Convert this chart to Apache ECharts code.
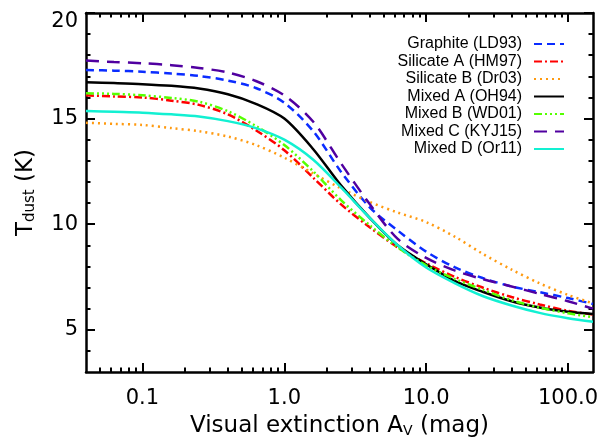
<!DOCTYPE html>
<html><head><meta charset="utf-8">
<script src="https://cdn.jsdelivr.net/npm/echarts@6/dist/echarts.min.js"></script>
<style>html,body{margin:0;padding:0;background:#fff}#c{width:603px;height:439px}</style>
</head><body><div id="c"></div>
<script>
// Visual extinction A_V (mag) sample points
const av = [0.04, 0.063, 0.1, 0.16, 0.25, 0.4, 0.63, 1, 1.6, 2.5, 4, 6.3, 10, 16, 25, 40, 63, 100, 150];
// Dust temperature (K) per model
const graphiteLD93 = [17.3, 17.27, 17.22, 17.13, 17.02, 16.8, 16.45, 15.75, 14.4, 12.5, 10.8, 9.7, 8.7, 7.95, 7.45, 7.05, 6.78, 6.5, 6.22];
const silicateAHM97 = [16.1, 16.05, 16.0, 15.85, 15.65, 15.2, 14.45, 13.5, 12.2, 10.95, 9.85, 8.9, 8.15, 7.5, 7.0, 6.55, 6.2, 5.9, 5.72];
const silicateBDr03 = [14.8, 14.75, 14.7, 14.55, 14.4, 14.15, 13.75, 13.15, 12.4, 11.7, 11.05, 10.55, 10.1, 9.4, 8.6, 7.85, 7.2, 6.65, 6.25];
const mixedAOH94 = [16.72, 16.68, 16.63, 16.55, 16.42, 16.15, 15.7, 15.0, 13.55, 11.85, 10.3, 9.0, 8.1, 7.3, 6.8, 6.35, 6.05, 5.85, 5.75];
const mixedBWD01 = [16.2, 16.17, 16.1, 15.98, 15.8, 15.35, 14.65, 13.75, 12.5, 11.15, 9.95, 8.9, 8.05, 7.4, 6.9, 6.4, 6.05, 5.78, 5.6];
const mixedCKYJ15 = [17.75, 17.68, 17.62, 17.53, 17.4, 17.18, 16.78, 16.1, 14.85, 12.9, 10.95, 9.3, 8.4, 7.8, 7.4, 7.05, 6.7, 6.35, 6.0];
const mixedDOr11 = [15.36, 15.32, 15.28, 15.2, 15.1, 14.88, 14.55, 14.0, 13.05, 11.75, 10.3, 9.0, 7.95, 7.2, 6.6, 6.15, 5.8, 5.55, 5.38];

const seriesNames = ['Graphite (LD93)', 'Silicate A (HM97)', 'Silicate B (Dr03)', 'Mixed A (OH94)', 'Mixed B (WD01)', 'Mixed C (KYJ15)', 'Mixed D (Or11)'];
const seriesValues = [graphiteLD93, silicateAHM97, silicateBDr03, mixedAOH94, mixedBWD01, mixedCKYJ15, mixedDOr11];

// tick labels / positions
const xMajorTicks = [0.1, 1, 10, 100];
const xMinorTicks = [0.05, 0.06, 0.07, 0.08, 0.09, 0.2, 0.3, 0.4, 0.5, 0.6, 0.7, 0.8, 0.9, 2, 3, 4, 5, 6, 7, 8, 9, 20, 30, 40, 50, 60, 70, 80, 90];
const yMajorTicks = [5, 10, 15, 20];
const yMinorTicks = [4, 6, 7, 8, 9, 11, 12, 13, 14, 16, 17, 18, 19];

const styles = [
  {color: '#0a2cff', dash: [8, 5]},
  {color: '#ff0000', dash: [8, 3, 2, 3]},
  {color: '#ff9a10', dash: [2, 4]},
  {color: '#000000', dash: 'solid'},
  {color: '#55ff00', dash: [8, 3, 2, 3, 2, 3, 2, 3]},
  {color: '#5000a0', dash: [13, 8]},
  {color: '#12f0d2', dash: 'solid'}
];

const AX = 'DejaVu Sans';
const XMIN = 0.04, XMAX = 150, YMIN = 3, YMAX = 20;

function xAxisDef(pos, ticks, len, showLabel, showLine) {
  return {
    type: 'log', logBase: 10, min: XMIN, max: XMAX, position: pos,
    axisLine: {show: showLine, onZero: false, lineStyle: {color: '#000', width: 2.5}},
    axisTick: {show: true, inside: true, length: len, customValues: ticks, lineStyle: {color: '#000', width: 2}},
    axisLabel: showLabel ? {
      show: true, customValues: ticks, fontFamily: AX, fontSize: 21, color: '#000', margin: 16,
      formatter: v => (v < 1 ? String(v) : Number(v).toFixed(1))
    } : {show: false},
    splitLine: {show: false}, minorTick: {show: false}, minorSplitLine: {show: false}
  };
}
function yAxisDef(pos, ticks, len, showLabel, showLine) {
  return {
    type: 'value', min: YMIN, max: YMAX, position: pos,
    axisLine: {show: showLine, onZero: false, lineStyle: {color: '#000', width: 2.5}},
    axisTick: {show: true, inside: true, length: len, customValues: ticks, lineStyle: {color: '#000', width: 2}},
    axisLabel: showLabel ? {
      show: true, customValues: ticks, fontFamily: AX, fontSize: 21, color: '#000', margin: 8,
      formatter: v => (v === 20 ? '{top|20}' : String(v)),
      rich: {top: {fontFamily: AX, fontSize: 21, color: '#000', padding: [18, 0, 0, 0]}}
    } : {show: false},
    splitLine: {show: false}
  };
}

const xAxes = [
  xAxisDef('bottom', xMajorTicks, 9, true, true),
  xAxisDef('bottom', xMinorTicks, 4.5, false, false),
  xAxisDef('top', xMajorTicks, 9, false, true),
  xAxisDef('top', xMinorTicks, 4.5, false, false)
];
Object.assign(xAxes[0], {
  name: '{a|Visual extinction A}{s|V}{a| (mag)}',
  nameLocation: 'middle', nameGap: 38,
  nameTextStyle: {rich: {
    a: {fontFamily: AX, fontSize: 23, color: '#000', lineHeight: 28, verticalAlign: 'bottom'},
    s: {fontFamily: AX, fontSize: 14, color: '#000', lineHeight: 14, verticalAlign: 'bottom'}
  }}
});
const yAxes = [
  yAxisDef('left', yMajorTicks, 9, true, true),
  yAxisDef('left', yMinorTicks, 4.5, false, false),
  yAxisDef('right', yMajorTicks, 9, false, true),
  yAxisDef('right', yMinorTicks, 4.5, false, false)
];
Object.assign(yAxes[0], {
  name: '{a|T}{s|dust}{a| (K)}',
  nameLocation: 'middle', nameGap: 48, nameRotate: 90,
  nameTextStyle: {rich: {
    a: {fontFamily: AX, fontSize: 23, color: '#000', lineHeight: 28, verticalAlign: 'bottom'},
    s: {fontFamily: AX, fontSize: 15, color: '#000', lineHeight: 15, verticalAlign: 'bottom'}
  }}
});

const series = seriesNames.map((name, k) => ({
  name, type: 'line', xAxisIndex: 0, yAxisIndex: 0,
  data: av.map((x, i) => [x, seriesValues[k][i]]),
  symbol: 'none', showSymbol: false, smooth: 0.3,
  lineStyle: {color: styles[k].color, width: 2.5, type: styles[k].dash},
  itemStyle: {color: styles[k].color},
  emphasis: {disabled: true}, animation: false
}));

const chart = echarts.init(document.getElementById('c'), null, {renderer: 'canvas'});
chart.setOption({
  backgroundColor: '#ffffff',
  animation: false,
  textStyle: {fontFamily: AX, color: '#000'},
  grid: {left: 86, right: 10, top: 13, bottom: 67, containLabel: false, outerBoundsMode: 'none', show: false},
  legend: {
    data: seriesNames, orient: 'vertical', align: 'right', right: 38, top: 36, padding: 0,
    itemWidth: 30, itemHeight: 12, itemGap: 1.5, selectedMode: false,
    itemStyle: {opacity: 0},
    textStyle: {fontFamily: 'Liberation Sans', fontSize: 16, color: '#000', padding: [0, 7, 0, 0]}
  },
  xAxis: xAxes,
  yAxis: yAxes,
  series
});
</script>
</body></html>
